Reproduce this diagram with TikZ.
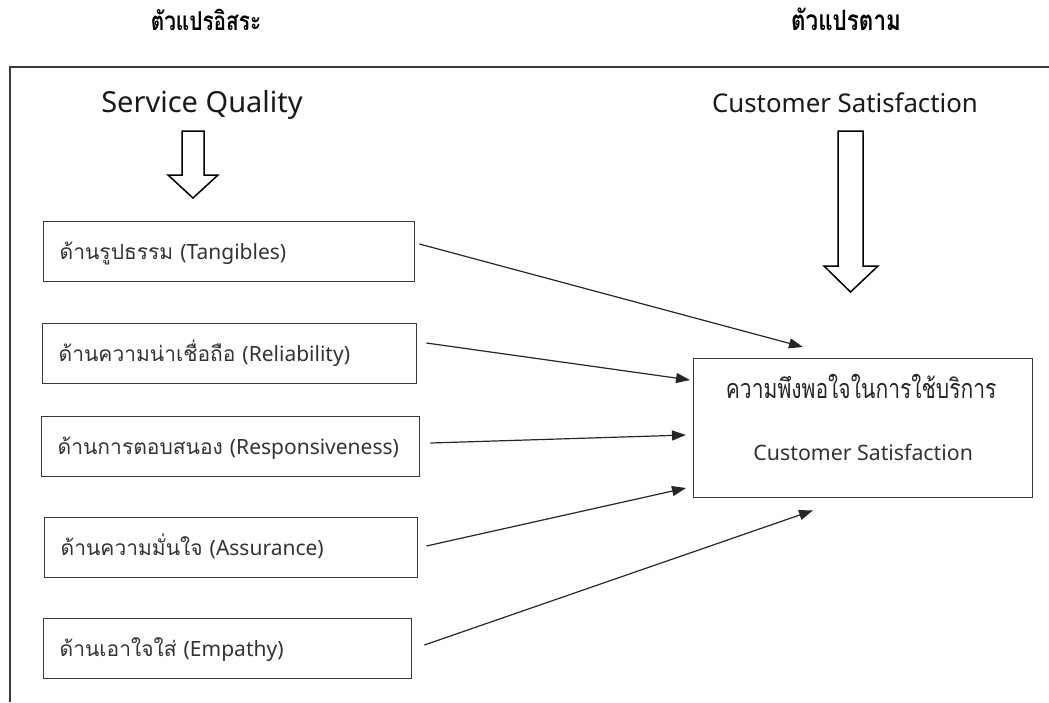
\documentclass[tikz,border=0pt]{standalone}
\usepackage{fontspec}
\setmainfont{Noto Sans}
\newfontfamily\thaifont[Script=Thai]{Loma}
\newfontfamily\thaicond[Script=Thai,FakeStretch=0.78]{Loma}
\newfontfamily\thaihead[Script=Thai,FakeStretch=0.8]{Loma}
\usetikzlibrary{arrows.meta,calc}
\definecolor{txtgray}{HTML}{333333}
\definecolor{linegray}{HTML}{3A3A3A}
\tikzset{
  factorbox/.style={draw=linegray, line width=1.4pt, anchor=north west, inner xsep=16pt,
    inner ysep=0pt, minimum height=60pt, align=left, text height=18pt, text depth=2pt,
    text=txtgray, font=\fontsize{21}{25}\selectfont},
  conn/.style={draw=black!85, line width=1.2pt, -{Triangle[length=14pt,width=10pt]}},
  hollow/.style={draw=black, line width=1.5pt, fill=white, line join=miter},
  headth/.style={font=\thaihead\bfseries\fontsize{26}{30}\selectfont, anchor=base},
  headen/.style={anchor=base, text=black!90}
}
\begin{document}
\begin{tikzpicture}[x=1pt,y=-1pt]
\useasboundingbox (0,0) rectangle (1049,702);
% outer open frame
\draw[linegray, line width=1.8pt] (10,702) -- (10,67) -- (1049,67);
% column titles
\node[headth] (ivtitle) at (206,30) {ตัวแปรอิสระ};
\node[headth, font=\thaihead\bfseries\fontsize{28}{32}\selectfont] (dvtitle) at (846,30) {ตัวแปรตาม};
% headers
\node[headen, font=\fontsize{29}{33}\selectfont] (sq) at (202,112) {Service Quality};
\node[headen, font=\fontsize{25.8}{30}\selectfont] (csh) at (845,112) {Customer Satisfaction};
% hollow arrows
\draw[hollow] (182,131) -- (204,131) -- (204,175) -- (218,175) -- (193,198) -- (168,175) -- (182,175) -- cycle;
\draw[hollow] (838,131) -- (863,131) -- (863,266) -- (878,266) -- (850.5,292) -- (824,266) -- (838,266) -- cycle;
% factor boxes
\node[factorbox, text width=339pt] (tan) at (43,221) {{\thaifont ด้านรูปธรรม} (Tangibles)};
\node[factorbox, text width=342pt] (rel) at (42,323) {{\thaifont ด้านความน่าเชื่อถือ} (Reliability)};
\node[factorbox, text width=346pt] (res) at (41,416) {{\thaifont ด้านการตอบสนอง} (Responsiveness)};
\node[factorbox, text width=341pt] (ass) at (44,517) {{\thaifont ด้านความมั่นใจ} (Assurance)};
\node[factorbox, text width=336pt] (emp) at (43,618) {{\thaifont ด้านเอาใจใส่} (Empathy)};
% dependent box
\node[draw=linegray, line width=1.4pt, anchor=north west, minimum width=339pt, minimum height=139pt, inner sep=0pt] (cs) at (693,358) {};
\node[font=\thaicond\fontsize{27}{31}\selectfont, anchor=base, text=black!85] (csth) at ($(cs.north)+(-2,40)$) {ความพึงพอใจในการใช้บริการ};
\node[font=\fontsize{21.3}{25}\selectfont, anchor=base, text=txtgray] (csen) at ($(cs.north)+(0,102)$) {Customer Satisfaction};
% connectors
\draw[conn] ($(tan.north east)+(4,23)$) -- ($(cs.north west)+(110,-11)$);
\draw[conn] ($(rel.north east)+(9,20)$) -- ($(cs.north west)+(-3,22)$);
\draw[conn] ($(res.north east)+(10,27)$) -- ($(cs.north west)+(-7,77)$);
\draw[conn] ($(ass.north east)+(8,29)$) -- ($(cs.north west)+(-7,130)$);
\draw[conn] ($(emp.north east)+(12,27)$) -- ($(cs.south west)+(120,12)$);
\end{tikzpicture}
\end{document}
